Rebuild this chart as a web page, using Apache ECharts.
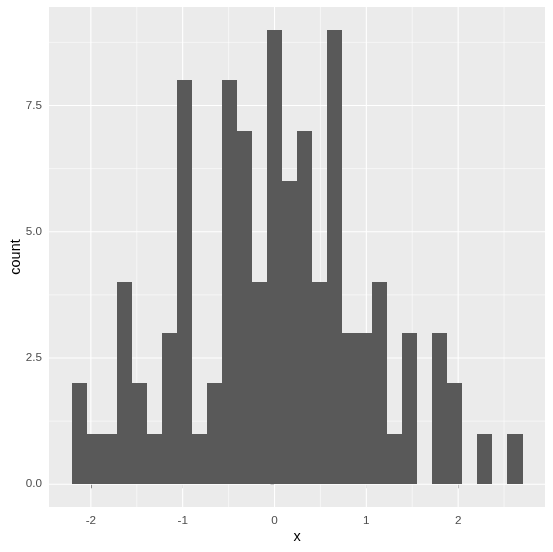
<!DOCTYPE html>
<html>
<head>
<meta charset="utf-8">
<script src="https://cdn.jsdelivr.net/npm/echarts@6/dist/echarts.min.js"></script>
<style>
html,body{margin:0;padding:0;background:#fff;}
#chart{width:553px;height:552px;}
</style>
</head>
<body>
<div id="chart"></div>
<script>
// Histogram data (30 bins)
var binStart = -2.210;
var binWidth = 0.1637;
var counts = [2, 1, 1, 4, 2, 1, 3, 8, 1, 2,
              8, 7, 4, 9, 6, 7, 4, 9, 3, 3,
              4, 1, 3, 0, 3, 2, 0, 1, 0, 1];
// Axis ticks
var xMajor = [-2, -1, 0, 1, 2];
var xMinor = [-2.5, -1.5, -0.5, 0.5, 1.5, 2.5];
var yMajor = [0, 2.5, 5, 7.5];
var yMinor = [1.25, 3.75, 6.25, 8.75];
var xLimits = [-2.456, 2.946];
var yLimits = [-0.45, 9.45];

var bars = counts.map(function (c, i) {
  return [binStart + i * binWidth, binStart + (i + 1) * binWidth, c];
});

var gridLines = [];
xMinor.forEach(function (v) { gridLines.push([v, 'v', 0]); });
yMinor.forEach(function (v) { gridLines.push([v, 'h', 0]); });
xMajor.forEach(function (v) { gridLines.push([v, 'v', 1]); });
yMajor.forEach(function (v) { gridLines.push([v, 'h', 1]); });

var chart = echarts.init(document.getElementById('chart'), null, {renderer: 'canvas'});
var font = 'Liberation Sans, Arial, sans-serif';

chart.setOption({
  animation: false,
  backgroundColor: '#ffffff',
  grid: {
    left: 49, top: 7, width: 496, height: 500,
    containLabel: false, outerBoundsMode: 'none',
    show: true, backgroundColor: '#EBEBEB', borderWidth: 0
  },
  xAxis: {
    type: 'value',
    min: xLimits[0], max: xLimits[1],
    name: 'x', nameLocation: 'middle', nameGap: 22, nameMoveOverlap: false,
    nameTextStyle: {color: '#000', fontSize: 14.5, fontFamily: font},
    axisLine: {show: false},
    splitLine: {show: false},
    axisTick: {show: true, length: 4, lineStyle: {color: '#333333', width: 1}, customValues: xMajor},
    axisLabel: {color: '#4D4D4D', fontSize: 11.7, fontFamily: font, margin: 8, customValues: xMajor,
      formatter: function (v) { return String(v); }}
  },
  yAxis: {
    type: 'value',
    min: yLimits[0], max: yLimits[1],
    name: 'count', nameLocation: 'middle', nameGap: 26, nameRotate: 90, nameMoveOverlap: false,
    nameTextStyle: {color: '#000', fontSize: 14.5, fontFamily: font},
    axisLine: {show: false},
    splitLine: {show: false},
    axisTick: {show: true, length: 4, lineStyle: {color: '#333333', width: 1}, customValues: yMajor},
    axisLabel: {color: '#4D4D4D', fontSize: 11.7, fontFamily: font, margin: 7, customValues: yMajor,
      formatter: function (v) { return v.toFixed(1); }}
  },
  series: [
    {
      type: 'custom',
      silent: true,
      z: 1,
      data: gridLines,
      clip: true,
      renderItem: function (params, api) {
        var cs = params.coordSys;
        var v = api.value(0);
        var dir = gridLines[params.dataIndex][1];
        var major = api.value(2) === 1;
        var shape;
        if (dir === 'v') {
          var x = api.coord([v, 0])[0];
          shape = {x1: x, y1: cs.y, x2: x, y2: cs.y + cs.height};
        } else {
          var y = api.coord([0, v])[1];
          shape = {x1: cs.x, y1: y, x2: cs.x + cs.width, y2: y};
        }
        return {
          type: 'line',
          shape: shape,
          style: {stroke: '#FFFFFF', lineWidth: major ? 1.1 : 0.55}
        };
      }
    },
    {
      type: 'custom',
      z: 2,
      data: bars,
      encode: {x: [0, 1], y: 2},
      renderItem: function (params, api) {
        var p0 = api.coord([api.value(0), 0]);
        var p1 = api.coord([api.value(1), api.value(2)]);
        var x0 = Math.round(p0[0]), x1 = Math.round(p1[0]);
        var y0 = Math.round(p0[1]), y1 = Math.round(p1[1]);
        return {
          type: 'rect',
          shape: {x: x0, y: y1, width: x1 - x0, height: y0 - y1},
          style: {fill: '#595959'}
        };
      }
    }
  ]
});
</script>
</body>
</html>
